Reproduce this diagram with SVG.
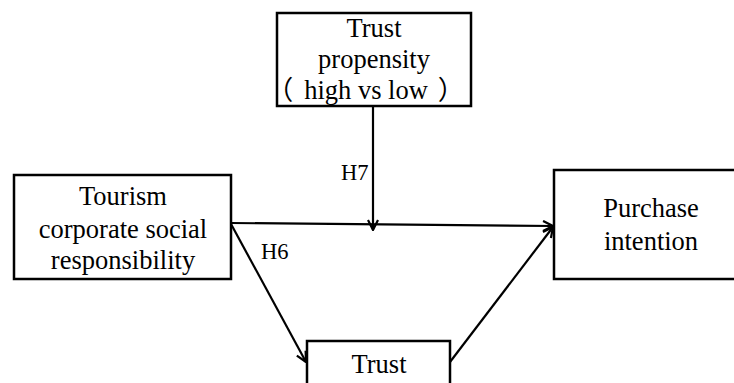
<svg xmlns="http://www.w3.org/2000/svg" width="734" height="383" viewBox="0 0 734 383">
<style>
.box{fill:#fff;stroke:#000;stroke-width:2.5}
.t{font-family:'Liberation Serif','Noto Sans CJK SC',serif;font-size:26.5px;fill:#000;text-anchor:middle}
.lbl{font-family:'Liberation Serif',serif;font-size:22.5px;fill:#000}
.c{fill:none;stroke:#000;stroke-width:2.2}
</style>
<defs>
<marker id="arr" viewBox="0 0 12 12" refX="11" refY="6" markerWidth="12" markerHeight="12" markerUnits="userSpaceOnUse" orient="auto">
<path d="M1,1 L11,6 L1,11" fill="none" stroke="#000" stroke-width="2.2"/>
</marker>
</defs>
<g id="connectors">
<line class="c" x1="373" y1="106" x2="373" y2="230" marker-end="url(#arr)"/>
<line class="c" x1="231" y1="223" x2="553" y2="226" marker-end="url(#arr)"/>
<line class="c" x1="231" y1="224" x2="306" y2="362" marker-end="url(#arr)"/>
<line class="c" x1="450" y1="362" x2="553" y2="227" marker-end="url(#arr)"/>
<text class="lbl" x="341" y="180">H7</text>
<text class="lbl" x="261" y="259">H6</text>
</g>
<g id="trust-propensity">
<rect class="box" x="277" y="13" width="194" height="93"/>
<text class="t" x="374" y="37">Trust</text>
<text class="t" x="374" y="68">propensity</text>
<text class="t" y="99"><tspan x="280">（</tspan><tspan x="366">high vs low</tspan><tspan x="451">）</tspan></text>
</g>
<g id="tcsr">
<rect class="box" x="14" y="175" width="217" height="104"/>
<text class="t" x="123" y="205">Tourism</text>
<text class="t" x="123" y="238">corporate social</text>
<text class="t" x="123" y="269">responsibility</text>
</g>
<g id="purchase-intention">
<rect class="box" x="554" y="170" width="200" height="109"/>
<text class="t" x="651" y="217">Purchase</text>
<text class="t" x="651" y="250">intention</text>
</g>
<g id="trust">
<rect class="box" x="307" y="341" width="143" height="60"/>
<text class="t" x="379" y="373">Trust</text>
</g>
</svg>
